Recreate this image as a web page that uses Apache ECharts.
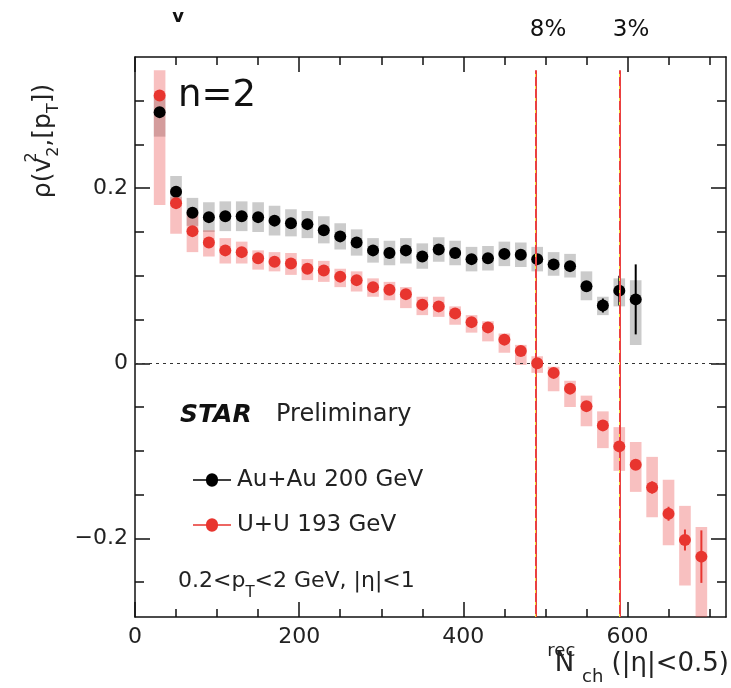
<!DOCTYPE html>
<html>
<head>
<meta charset="utf-8">
<script src="https://cdn.jsdelivr.net/npm/echarts@6/dist/echarts.min.js"></script>
<style>
html,body{margin:0;padding:0;background:#fff;}
#main{width:731px;height:688px;}
</style>
</head>
<body>
<div id="main"></div>
<script>
// ---- Data ----
const auX = [30,50,70,90,110,130,150,170,190,210,230,250,270,290,310,330,350,370,390,410,430,450,470,490,510,530,550,570,590,610];
const auY = [0.287,0.196,0.172,0.167,0.168,0.168,0.167,0.163,0.160,0.159,0.152,0.145,0.138,0.129,0.126,0.129,0.122,0.130,0.126,0.119,0.120,0.125,0.124,0.119,0.113,0.111,0.088,0.066,0.083,0.073];
const auSysLo = [0.259,0.182,0.157,0.150,0.151,0.151,0.150,0.146,0.145,0.143,0.137,0.130,0.123,0.115,0.112,0.114,0.108,0.116,0.112,0.105,0.106,0.111,0.110,0.105,0.100,0.098,0.072,0.055,0.065,0.021];
const auSysHi = [0.305,0.214,0.189,0.184,0.185,0.185,0.184,0.180,0.176,0.174,0.168,0.160,0.153,0.143,0.140,0.143,0.137,0.144,0.140,0.133,0.134,0.139,0.138,0.133,0.127,0.125,0.105,0.076,0.097,0.095];
const auStat = [0.004,0.003,0.003,0.003,0.003,0.003,0.003,0.003,0.003,0.003,0.003,0.003,0.003,0.003,0.003,0.003,0.003,0.003,0.003,0.003,0.003,0.003,0.003,0.004,0.004,0.005,0.006,0.008,0.017,0.040];

const uuX = [30,50,70,90,110,130,150,170,190,210,230,250,270,290,310,330,350,370,390,410,430,450,470,490,510,530,550,570,590,610,630,650,670,690];
const uuY = [0.306,0.183,0.151,0.138,0.129,0.127,0.120,0.116,0.114,0.108,0.106,0.099,0.095,0.087,0.084,0.079,0.067,0.065,0.057,0.047,0.041,0.027,0.014,0.000,-0.011,-0.029,-0.049,-0.071,-0.095,-0.116,-0.142,-0.172,-0.202,-0.221];
const uuSysLo = [0.181,0.148,0.127,0.122,0.114,0.114,0.107,0.105,0.101,0.095,0.093,0.087,0.082,0.076,0.072,0.063,0.055,0.053,0.044,0.035,0.025,0.012,-0.002,-0.011,-0.032,-0.050,-0.072,-0.097,-0.123,-0.147,-0.176,-0.208,-0.254,-0.300];
const uuSysHi = [0.335,0.190,0.171,0.152,0.143,0.139,0.129,0.127,0.126,0.119,0.117,0.108,0.105,0.097,0.093,0.087,0.076,0.076,0.065,0.055,0.048,0.034,0.021,0.008,-0.004,-0.020,-0.037,-0.055,-0.073,-0.090,-0.107,-0.133,-0.163,-0.187];
const uuStat = [0.003,0.003,0.003,0.003,0.003,0.003,0.003,0.003,0.003,0.003,0.003,0.003,0.003,0.003,0.003,0.003,0.003,0.003,0.003,0.003,0.003,0.003,0.003,0.003,0.003,0.003,0.003,0.004,0.005,0.006,0.007,0.008,0.012,0.030];

const centralityCuts = [488, 590];
const centralityLabels = ['8%', '3%'];

const xMajor = [0,200,400,600];
const xMinor = [50,100,150,250,300,350,450,500,550,650,700];
const yMajor = [-0.2,0,0.2];
const yMinor = [-0.25,-0.15,-0.1,-0.05,0.05,0.1,0.15,0.25,0.3];

const seriesNames = ['Au+Au 200 GeV', 'U+U 193 GeV'];

// ---- Chart ----
const FONT = 'DejaVu Sans';
const X_MIN = 0, X_MAX = 720, Y_MIN = -0.29, Y_MAX = 0.35;
const chart = echarts.init(document.getElementById('main'), null, {renderer:'canvas'});

function xAxisDef(pos, ticks, len, showLine, showLabel) {
  return {
    type:'value', position:pos, min:X_MIN, max:X_MAX,
    axisLine:{show:showLine, onZero:false, lineStyle:{color:'#111', width:1.5}},
    axisTick:{show:true, inside:true, length:len, customValues:ticks, lineStyle:{color:'#111', width:1.5}},
    axisLabel:{show:showLabel, customValues:ticks, margin:9, fontSize:22, color:'#222', fontFamily:FONT},
    splitLine:{show:false}
  };
}
function yAxisDef(pos, ticks, len, showLine, showLabel) {
  return {
    type:'value', position:pos, min:Y_MIN, max:Y_MAX,
    axisLine:{show:showLine, onZero:false, lineStyle:{color:'#111', width:1.5}},
    axisTick:{show:true, inside:true, length:len, customValues:ticks, lineStyle:{color:'#111', width:1.5}},
    axisLabel:{show:showLabel, customValues:ticks, margin:7, fontSize:22, color:'#222', fontFamily:FONT,
      formatter: v => (Math.abs(v) < 1e-9 ? '0' : (v < 0 ? '\u2212' + Math.abs(v) : String(v)))},
    splitLine:{show:false}
  };
}

function boxRenderer(fill) {
  return function (params, api) {
    const x = api.value(0), lo = api.value(1), hi = api.value(2);
    const pTop = api.coord([x, hi]);
    const pBot = api.coord([x, lo]);
    const hw = 5.8;
    const cs = params.coordSys;
    const shape = echarts.graphic.clipRectByRect(
      {x:pTop[0]-hw, y:pTop[1], width:2*hw, height:pBot[1]-pTop[1]},
      {x:cs.x, y:cs.y, width:cs.width, height:cs.height});
    if (!shape) return null;
    return {type:'rect', shape:shape, style:{fill:fill}};
  };
}
function statRenderer(color) {
  return function (params, api) {
    const x = api.value(0), y = api.value(1), e = api.value(2);
    const p1 = api.coord([x, y + e]);
    const p2 = api.coord([x, y - e]);
    return {type:'line', shape:{x1:p1[0], y1:p1[1], x2:p2[0], y2:p2[1]}, style:{stroke:color, lineWidth:2}};
  };
}

const vLines = [];
centralityCuts.forEach(c => {
  vLines.push([{coord:[c, Y_MIN], lineStyle:{color:'#ea4040', width:2, type:'solid'}}, {coord:[c, 0.335]}]);
});
centralityCuts.forEach(c => {
  vLines.push([{coord:[c, Y_MIN], lineStyle:{color:'#f2e23a', width:1, type:[3,9]}}, {coord:[c, 0.335]}]);
});

const option = {
  animation:false,
  backgroundColor:'#fff',
  grid:{left:135, right:5, top:57, bottom:71, containLabel:false},
  xAxis:[
    xAxisDef('bottom', xMajor, 15, true, true),
    xAxisDef('bottom', xMinor, 8, false, false),
    xAxisDef('top', xMajor, 15, true, false),
    xAxisDef('top', xMinor, 8, false, false)
  ],
  yAxis:[
    yAxisDef('left', yMajor, 15, true, true),
    yAxisDef('left', yMinor, 9, false, false),
    yAxisDef('right', yMajor, 15, true, false),
    yAxisDef('right', yMinor, 9, false, false)
  ],
  legend:{
    data:seriesNames, orient:'vertical', left:188, top:463, itemWidth:38, itemHeight:14, itemGap:21,
    selectedMode:false,
    icon:'path://M0,6.2H13A6,6,0,0,1,25,6.2H38V7.8H25A6,6,0,0,1,13,7.8H0Z',
    textStyle:{fontSize:23, lineHeight:24, color:'#222', fontFamily:FONT, padding:[0,0,0,1]}
  },
  series:[
    {type:'line', data:[], silent:true, z:1,
      markLine:{silent:true, symbol:'none', label:{show:false},
        lineStyle:{color:'#333', width:1.2, type:[3,4]}, data:[{yAxis:0}]}},
    {type:'custom', renderItem:boxRenderer('#cbcbcb'), z:2,
      data:auX.map((x,i)=>[x, auSysLo[i], auSysHi[i]])},
    {type:'custom', renderItem:boxRenderer('rgba(232,60,60,0.32)'), z:2,
      data:uuX.map((x,i)=>[x, uuSysLo[i], uuSysHi[i]])},
    {type:'custom', renderItem:statRenderer('#000'), z:3,
      data:auX.map((x,i)=>[x, auY[i], auStat[i]])},
    {type:'custom', renderItem:statRenderer('#e8352f'), z:3,
      data:uuX.map((x,i)=>[x, uuY[i], uuStat[i]])},
    {type:'scatter', name:seriesNames[0], symbol:'circle', symbolSize:12, z:4,
      itemStyle:{color:'#000', opacity:1}, data:auX.map((x,i)=>[x, auY[i]])},
    {type:'scatter', name:seriesNames[1], symbol:'circle', symbolSize:12, z:5,
      itemStyle:{color:'#e8352f', opacity:1}, data:uuX.map((x,i)=>[x, uuY[i]])},
    {type:'line', data:[], silent:true, z:6,
      markLine:{silent:true, symbol:'none', label:{show:false}, data:vLines}}
  ],
  graphic:[
    {type:'text', x:178, y:96, style:{text:'n=2', fontSize:37, fontFamily:FONT, fill:'#111', align:'left', verticalAlign:'middle'}},
    {type:'text', x:548, y:30, style:{text:centralityLabels[0], fontSize:23, fontFamily:FONT, fill:'#111', align:'center', verticalAlign:'middle'}},
    {type:'text', x:631, y:30, style:{text:centralityLabels[1], fontSize:23, fontFamily:FONT, fill:'#111', align:'center', verticalAlign:'middle'}},
    {type:'text', x:178, y:17, style:{text:'v', fontSize:18, fontWeight:'bold', fontFamily:FONT, fill:'#111', align:'center', verticalAlign:'middle'}},
    {type:'text', x:180, y:415, style:{text:'STAR', fontSize:25, fontWeight:'bold', fontStyle:'italic', fontFamily:FONT, fill:'#111', align:'left', verticalAlign:'middle'}},
    {type:'text', x:276, y:415, style:{text:'Preliminary', fontSize:24, fontFamily:FONT, fill:'#222', align:'left', verticalAlign:'middle'}},
    {type:'text', x:178, y:581, style:{
      text:'{a|0.2<p}{b|T}{a|<2 GeV, |η|<1}', align:'left', verticalAlign:'middle',
      rich:{a:{fontSize:22, fontFamily:FONT, fill:'#222', color:'#222', lineHeight:40, verticalAlign:'middle'},
            b:{fontSize:15, fontFamily:FONT, fill:'#222', color:'#222', lineHeight:16, verticalAlign:'bottom'}}}},
    {type:'text', x:43, y:141, rotation:Math.PI/2, style:{
      text:'{a|ρ(v}{s|2}{b|2}{a|,[p}{b|T}{a|])}', align:'center', verticalAlign:'middle',
      rich:{a:{fontSize:25, fontFamily:FONT, fill:'#222', color:'#222', lineHeight:38, verticalAlign:'middle'},
            s:{fontSize:16, fontFamily:FONT, fill:'#222', color:'#222', lineHeight:18, verticalAlign:'top', width:1},
            b:{fontSize:16, fontFamily:FONT, fill:'#222', color:'#222', lineHeight:18, verticalAlign:'bottom'}}}},
    {type:'text', x:729, y:664, style:{
      text:'{a|N}{s|rec}{b|ch}{a| (|η|<0.5)}', align:'right', verticalAlign:'middle',
      rich:{a:{fontSize:26, fontFamily:FONT, fill:'#222', color:'#222', lineHeight:44, verticalAlign:'middle'},
            s:{fontSize:18, fontFamily:FONT, fill:'#222', color:'#222', lineHeight:18, verticalAlign:'top', width:1},
            b:{fontSize:18, fontFamily:FONT, fill:'#222', color:'#222', lineHeight:18, verticalAlign:'bottom', width:28}}}}
  ]
};
chart.setOption(option);
</script>
</body>
</html>
